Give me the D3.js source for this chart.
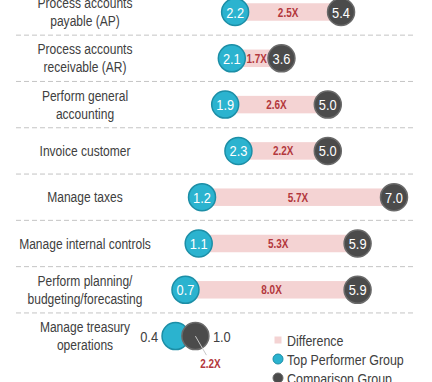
<!DOCTYPE html>
<html><head><meta charset="utf-8">
<script src="https://cdnjs.cloudflare.com/ajax/libs/d3/7.8.5/d3.min.js"></script>
<style>
html,body{margin:0;padding:0;background:#fff;}
svg{display:block;}
text{font-family:"Liberation Sans",Arial,sans-serif;}
</style></head>
<body><svg id="chart" width="432" height="382"></svg>
<script>
const categories = [
  ["Process accounts","payable (AP)"],
  ["Process accounts","receivable (AR)"],
  ["Perform general","accounting"],
  ["Invoice customer"],
  ["Manage taxes"],
  ["Manage internal controls"],
  ["Perform planning/","budgeting/forecasting"],
  ["Manage treasury","operations"]
];
const topPerformer = [2.2, 2.1, 1.9, 2.3, 1.2, 1.1, 0.7, 0.4];
const comparison   = [5.4, 3.6, 5.0, 5.0, 7.0, 5.9, 5.9, 1.0];
const difference   = ["2.5X","1.7X","2.6X","2.2X","5.7X","5.3X","8.0X","2.2X"];
const legendLabels = ["Difference","Top Performer Group","Comparison Group"];

const svg = d3.select("#chart");
const NARROW = 0.83;
const tf = (px, py) => `translate(${px},${py}) scale(${NARROW},1)`;
const keys = categories.map((c,i)=>i);
const step = 46.3;
const y = d3.scaleBand().domain(keys).range([-11.15, -11.15 + step*keys.length]).padding(0);
const x = d3.scaleLinear().domain([0, 7]).range([162.3, 394]);
const R = 13.5, barH = 17.5;
const teal = "#2bb3cf", tealEdge = "#1c8ea6", grey = "#4b4b4b", greyEdge = "#6a6a6a";
const pink = "#f4d3d3", red = "#b3383d", txt = "#404040";
const cy = d => y(d) + y.bandwidth()/2;

// separators
svg.append("g").selectAll("line").data(keys.slice(0,-1)).join("line")
  .attr("x1", 16).attr("x2", 415)
  .attr("y1", d => y(d) + y.bandwidth()).attr("y2", d => y(d) + y.bandwidth())
  .attr("stroke", "#c4c4c4").attr("stroke-width", 1).attr("stroke-dasharray", "5,3");

// category labels
const cl = svg.append("g").selectAll("text").data(keys).join("text")
  .attr("text-anchor", "middle")
  .attr("font-size", 14.5).attr("fill", txt)
  .attr("transform", d => tf(85, cy(d)));
cl.each(function(d){
  const lines = categories[d];
  const n = lines.length, lh = 18;
  d3.select(this).selectAll("tspan").data(lines).join("tspan")
    .attr("x", 0)
    .attr("y", (l,i) => (-(n-1)*lh/2) + 5 + i*lh)
    .text(l => l);
});

const overlap = d => (x(comparison[d]) - x(topPerformer[d])) < 2*R + 10;
const inside = keys.filter(d=>!overlap(d));
const out = keys.filter(d=>overlap(d));

// bars
svg.append("g").selectAll("rect").data(inside).join("rect")
  .attr("x", d => x(topPerformer[d])).attr("width", d => x(comparison[d]) - x(topPerformer[d]))
  .attr("y", d => cy(d) - barH/2).attr("height", barH).attr("fill", pink);

// difference labels
svg.append("g").selectAll("text").data(inside).join("text")
  .attr("transform", d => tf((x(topPerformer[d]) + x(comparison[d]))/2, cy(d) + 4.5))
  .attr("text-anchor", "middle")
  .attr("font-size", 12).attr("font-weight", "bold").attr("fill", red)
  .text(d => difference[d]);

// circles
svg.append("g").selectAll("circle").data(keys).join("circle")
  .attr("cx", d => x(topPerformer[d])).attr("cy", cy).attr("r", R)
  .attr("fill", teal).attr("stroke", tealEdge).attr("stroke-width", 1.5);
svg.append("g").selectAll("circle").data(keys).join("circle")
  .attr("cx", d => x(comparison[d])).attr("cy", cy).attr("r", R)
  .attr("fill", grey).attr("stroke", greyEdge).attr("stroke-width", 1.5);

// values inside
svg.append("g").selectAll("text").data(inside).join("text")
  .attr("transform", d => tf(x(topPerformer[d]), cy(d) + 5.5))
  .attr("text-anchor","middle").attr("font-size", 15.5).attr("fill","#fff")
  .text(d => topPerformer[d].toFixed(1));
svg.append("g").selectAll("text").data(inside).join("text")
  .attr("transform", d => tf(x(comparison[d]), cy(d) + 5.5))
  .attr("text-anchor","middle").attr("font-size", 15.5).attr("fill","#fff")
  .text(d => comparison[d].toFixed(1));

// overlapping rows: values outside + leader
const og = svg.append("g");
out.forEach(d => {
  og.append("text").attr("transform", tf(x(topPerformer[d]) - R - 4, cy(d) + 5.5))
    .attr("text-anchor","end").attr("font-size",15.5).attr("fill",txt)
    .text(topPerformer[d].toFixed(1));
  og.append("text").attr("transform", tf(x(comparison[d]) + R + 4, cy(d) + 5.5))
    .attr("text-anchor","start").attr("font-size",15.5).attr("fill",txt)
    .text(comparison[d].toFixed(1));
  og.append("line").attr("x1", x(comparison[d])).attr("y1", cy(d))
    .attr("x2", x(comparison[d]) + 11).attr("y2", cy(d) + 19)
    .attr("stroke", "#c8c8c8").attr("stroke-width", 1);
  og.append("text").attr("transform", tf(x(comparison[d]) + 15, cy(d) + 32))
    .attr("text-anchor","middle").attr("font-size",12).attr("font-weight","bold").attr("fill",red)
    .text(difference[d]);
});

// legend
const lg = svg.append("g").attr("transform","translate(278,340)");
lg.append("rect").attr("x",-3.5).attr("y",-3.5).attr("width",7).attr("height",7).attr("fill",pink);
lg.append("circle").attr("cx",0).attr("cy",19).attr("r",5).attr("fill",teal).attr("stroke",tealEdge);
lg.append("circle").attr("cx",0).attr("cy",38).attr("r",5).attr("fill",grey).attr("stroke",greyEdge);
lg.selectAll("text.l").data(legendLabels).join("text").attr("class","l")
  .attr("transform", (d,i) => tf(9, i*19 + 5.5)).attr("font-size", 15).attr("fill",txt)
  .text(d => d);
</script></body></html>
